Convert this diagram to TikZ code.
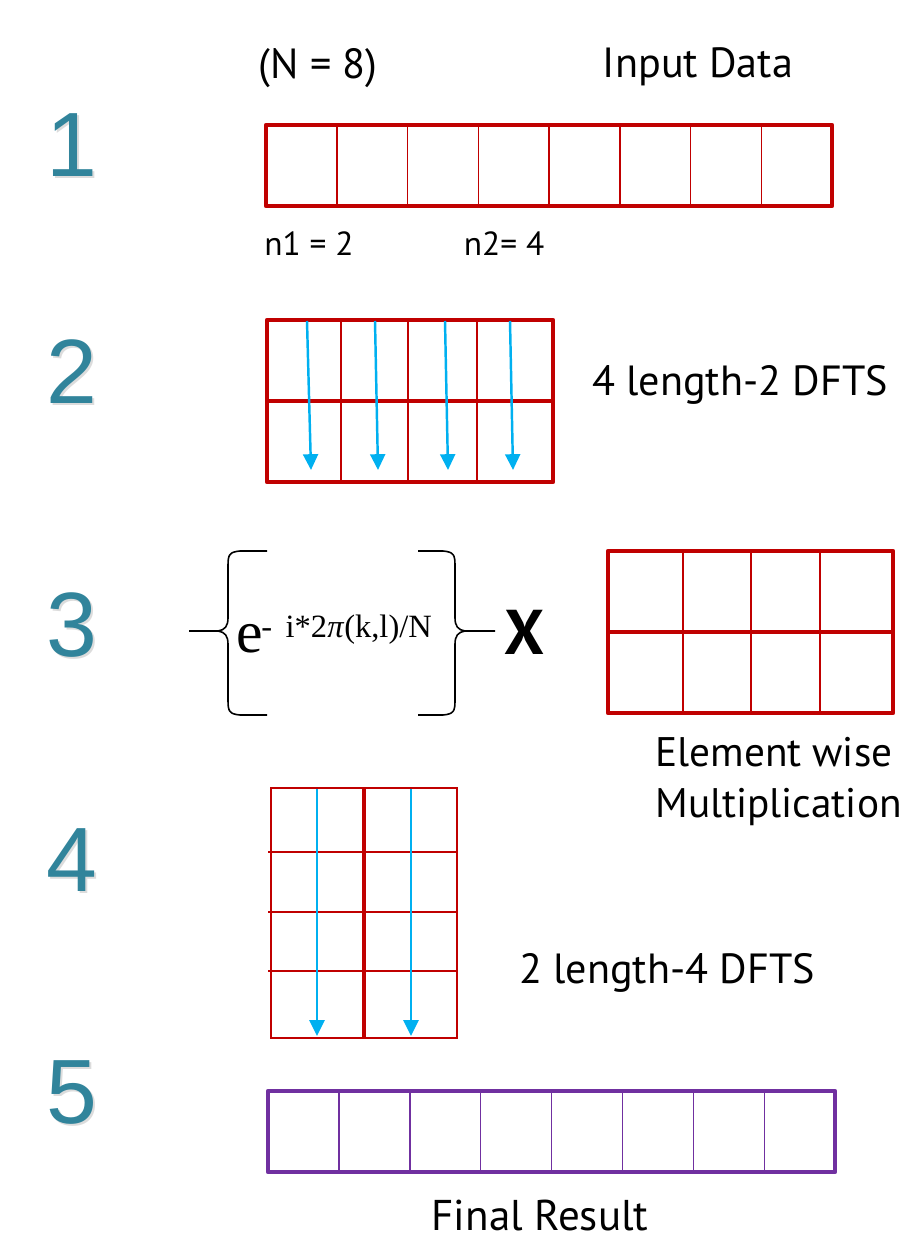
\documentclass[tikz,border=0pt]{standalone}
\usepackage{fontspec}
\setmainfont{PT Sans}
\newfontfamily\numfont{Liberation Sans}
\newfontfamily\formfont{Liberation Serif}
\usepackage{tikz}
\usetikzlibrary{
  arrows.meta,
  positioning,
  calc
}
\definecolor{stepteal}{RGB}{49,132,155}
\definecolor{gridred}{RGB}{192,0,0}
\definecolor{dftblue}{RGB}{0,176,240}
\definecolor{resultpurple}{RGB}{112,48,160}

\begin{document}
\begin{tikzpicture}[x=0.02cm, y=-0.02cm,
    stepnum/.style={font=\numfont\fontsize{52}{52}\selectfont, text=stepteal, inner sep=0},
    stepshadow/.style={font=\numfont\fontsize{52}{52}\selectfont, text=black!30, opacity=0.45, inner sep=0},
    lbl/.style={font=\fontsize{24}{29}\selectfont, inner sep=0},
    smalllbl/.style={font=\fontsize{19}{22}\selectfont, inner sep=0},
    outer/.style={draw=gridred, line width=2.5pt, line join=round},
    inner/.style={draw=gridred, line width=0.85pt},
    dftarrow/.style={draw=dftblue, line width=1.4pt, -{Triangle[length=9pt, width=8.5pt]}},
    bracepath/.style={draw=black, line width=0.9pt, line join=round}]
    \useasboundingbox (0,0) rectangle (906,1239);

    % Step numbers (with soft shadow)
    \foreach \n/\y in {1/145, 2/372, 3/625, 4/860, 5/1093} {
        \node[stepshadow] at (74,\y+2) {\n};
        \node[stepnum] (step\n) at (72,\y) {\n};
    }

    % Step 1: input data
    \node[lbl] (nlabel) at (318,68) {(N = 8)};
    \node[lbl] (inlabel) at (698,67) {Input Data};
    \foreach \i in {1,...,7}
        \draw[inner] (266+\i*70.75,125) -- (266+\i*70.75,206);
    \draw[outer] (266,125) rectangle (832,206);
    \node[smalllbl] (none) at (309,244) {n1 = 2};
    \node[smalllbl] (ntwo) at (504,244) {n2= 4};

    % Step 2: 2 x 4 grid, length-2 DFTs
    \foreach \x in {341,408,477}
        \draw[inner] (\x,320) -- (\x,482);
    \draw[outer] (267,320) rectangle (553,482);
    \draw[gridred, line width=2.3pt] (267,401) -- (553,401);
    \foreach \k/\xs/\xe in {1/307/311, 2/375/378, 3/445/448, 4/510/513} {
        \coordinate (top\k) at (\xs,321);
        \coordinate (bot\k) at (\xe,470);
        \draw[dftarrow] (top\k) -- (bot\k);
    }
    \node[lbl] (dfttwo) at (740,385) {4 length-2 DFTS};

    % Step 3: twiddle factors times grid
    \draw[bracepath] (267,551) -- (240,551) .. controls (229,552) and (228,555) .. (228,566)
        -- (228,618) .. controls (228,626) and (225,630) .. (218,631) -- (189,631);
    \draw[bracepath] (218,631) .. controls (225,632) and (228,636) .. (228,644)
        -- (228,700) .. controls (228,711) and (229,714) .. (240,715) -- (267,715);
    \draw[bracepath] (418,551) -- (443,551) .. controls (454,552) and (455,555) .. (455,566)
        -- (455,618) .. controls (455,626) and (458,630) .. (465,631) -- (495,631);
    \draw[bracepath] (465,631) .. controls (458,632) and (455,636) .. (455,644)
        -- (455,700) .. controls (455,711) and (454,714) .. (443,715) -- (418,715);
    \node[anchor=base west, inner sep=0, font=\formfont\fontsize{34}{34}\selectfont] (ebase) at (236,652) {e};
    \node[anchor=base west, inner sep=0, font=\formfont\fontsize{18.5}{19}\selectfont] (expo) at (261,637) {-\, i*2\textit{π}(k,l)/N};
    \node[inner sep=0, font=\bfseries\fontsize{36}{36}\selectfont] (times) at (525,632) {X};
    \foreach \x in {683,751,820}
        \draw[inner] (\x,551) -- (\x,713);
    \draw[outer] (608,551) rectangle (893,713);
    \draw[gridred, line width=2.3pt] (608,632) -- (893,632);
    \node[inner sep=0, align=left, anchor=north west, font=\fontsize{23.5}{29}\selectfont] (elemwise) at (655,737) {Element wise\\Multiplication};

    % Step 4: 4 x 2 grid, length-4 DFTs
    \foreach \y in {852,912,971}
        \draw[inner] (268,\y) -- (457,\y);
    \draw[gridred, line width=1.4pt] (271,788) rectangle (457,1038);
    \draw[gridred, line width=2.3pt] (364,788) -- (364,1038);
    \foreach \k/\x in {5/317, 6/411} {
        \coordinate (top\k) at (\x,789);
        \coordinate (bot\k) at (\x,1036);
        \draw[dftarrow] (top\k) -- (bot\k);
    }
    \node[lbl] (dftfour) at (667,973) {2 length-4 DFTS};

    % Step 5: final result
    \foreach \i in {1,...,7}
        \draw[resultpurple, line width=0.85pt] (268+\i*70.9,1091) -- (268+\i*70.9,1172);
    \draw[resultpurple, line width=2.5pt, line join=round] (268,1091) rectangle (835,1172);
    \node[lbl, font=\fontsize{24.5}{29}\selectfont] (final) at (540,1216) {Final Result};
\end{tikzpicture}
\end{document}
